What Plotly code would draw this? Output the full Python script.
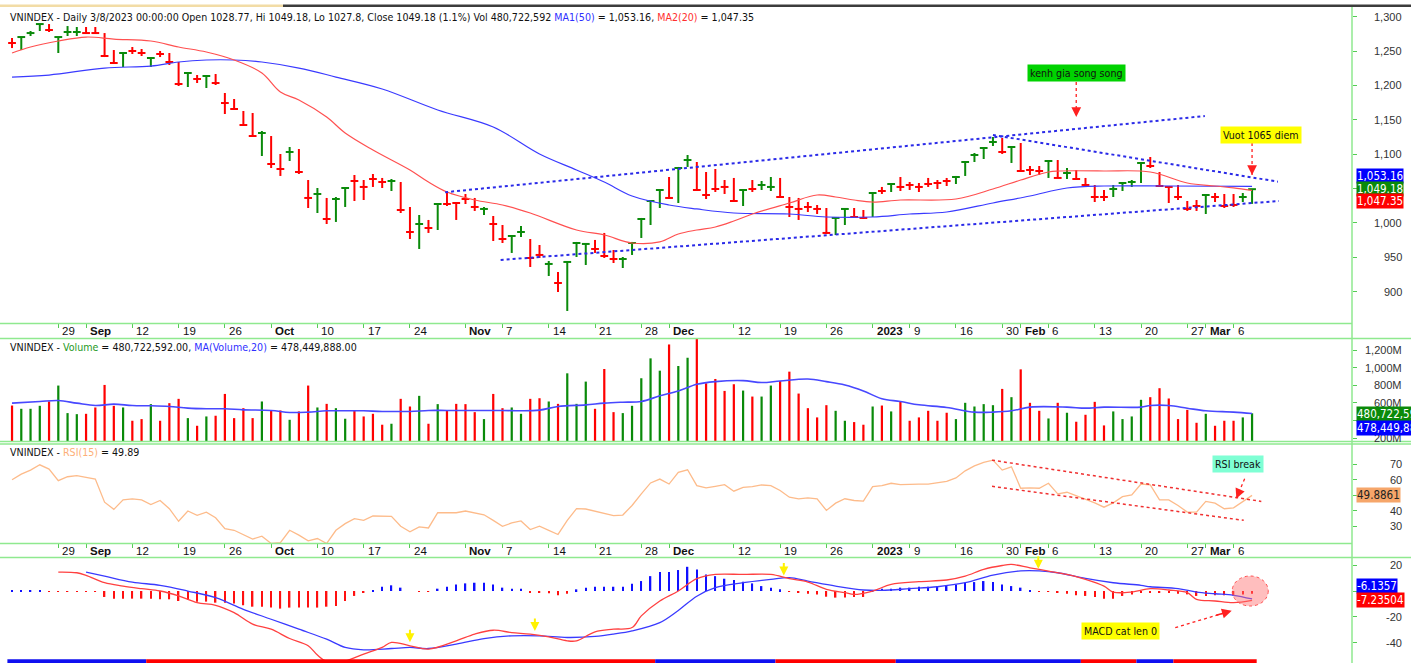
import plotly.graph_objects as go

# ---------------- data ----------------
high = [1269.1,1270.5,1279.3,1289.4,1289.4,1270.5,1286.5,1285.1,1285.1,1285.1,
        1276.3,1251.6,1247.3,1256.0,1253.1,1241.4,1250.2,1247.3,1234.2,1219.6,
        1215.3,1215.3,1216.7,1189.1,1180.4,1162.9,1160.0,1133.8,1126.5,1100.4,
        1110.5,1107.6,1062.5,1050.9,1036.4,1037.8,1052.3,1069.8,1062.5,1071.3,
        1065.5,1064.0,1059.6,1023.3,1011.6,1004.4,1029.1,1045.1,1030.5,1042.2,
        1036.4,1023.3,1010.2,997.1,982.5,995.6,976.7,968.0,944.7,928.7,
        944.7,972.4,970.9,975.3,985.5,960.7,950.5,972.4,1007.3,1033.4,
        1049.4,1066.9,1081.5,1098.9,1088.7,1074.2,1078.5,1062.5,1065.5,1049.4,
        1062.5,1061.1,1066.9,1065.5,1037.8,1036.4,1030.5,1026.2,1021.8,1008.7,
        1021.8,1021.8,1018.9,1045.1,1052.4,1058.2,1066.9,1059.6,1058.2,1065.5,
        1062.5,1065.5,1068.4,1090.2,1101.8,1110.5,1125.1,1123.6,1112.0,1116.4,
        1082.9,1082.9,1090.2,1091.6,1080.0,1077.1,1065.5,1055.3,1048.0,1055.3,
        1058.2,1062.5,1087.3,1096.0,1074.2,1053.8,1055.3,1032.0,1033.4,1042.2,
        1043.6,1042.2,1042.2,1043.6,1049.18]
low = [1254.5,1251.6,1272.0,1279.3,1277.8,1247.3,1272.0,1272.0,1274.9,1274.9,
       1241.4,1232.7,1226.9,1245.8,1242.9,1226.9,1241.4,1229.8,1199.3,1197.8,
       1203.6,1196.4,1200.7,1158.5,1164.4,1141.1,1125.1,1097.4,1080.0,1068.4,
       1090.2,1071.3,1021.8,1014.5,998.5,1001.5,1023.3,1032.0,1033.4,1052.4,
       1050.9,1046.5,1014.5,976.7,962.2,985.5,989.8,1024.7,1004.4,1027.6,
       1017.5,1011.6,973.8,970.9,956.4,979.6,936.0,949.1,922.9,899.6,
       872.0,950.5,938.9,956.4,949.1,941.8,934.5,953.5,978.2,997.1,
       1021.8,1034.9,1029.1,1081.5,1046.5,1034.9,1045.1,1042.2,1030.5,1024.7,
       1045.1,1048.0,1046.5,1037.8,1008.7,1004.4,1016.0,1013.1,984.0,982.5,
       997.1,1008.7,1005.8,1008.7,1042.2,1045.1,1046.5,1048.0,1045.1,1052.4,
       1049.4,1053.8,1056.7,1068.4,1088.7,1093.1,1112.0,1100.4,1087.3,1074.2,
       1069.8,1069.8,1065.5,1065.5,1064.0,1062.5,1053.8,1030.5,1032.0,1037.8,
       1046.5,1052.4,1058.2,1080.0,1052.4,1029.1,1033.4,1017.5,1017.5,1013.1,
       1030.5,1021.8,1023.3,1030.5,1027.8]
close = [1261.8,1270.5,1276.3,1289.4,1280.7,1270.5,1277.8,1277.8,1276.3,1276.3,
         1242.9,1232.7,1247.3,1250.2,1247.3,1240.0,1245.8,1234.2,1202.2,1218.2,
         1209.5,1213.8,1203.6,1174.5,1165.8,1142.5,1126.5,1130.9,1085.8,1078.5,
         1103.3,1074.2,1036.4,1042.2,1005.8,1034.9,1050.9,1061.1,1052.4,1064.0,
         1059.6,1061.1,1018.9,986.9,998.5,992.7,1027.6,1027.6,1029.1,1034.9,
         1023.3,1020.4,998.5,976.7,981.1,986.9,949.1,953.5,940.4,912.7,
         943.3,970.9,969.5,962.2,952.0,947.6,947.6,970.9,1005.8,1032.0,
         1048.0,1036.4,1080.0,1091.6,1048.0,1040.7,1049.4,1052.4,1032.0,1048.0,
         1049.4,1055.3,1052.4,1037.8,1023.3,1020.4,1023.3,1020.4,985.5,1007.3,
         1020.4,1008.7,1007.3,1043.6,1046.5,1056.7,1052.4,1055.3,1052.4,1056.7,
         1058.2,1061.1,1066.9,1088.7,1098.9,1109.1,1117.8,1103.3,1110.5,1075.6,
         1077.1,1075.6,1090.2,1065.5,1072.7,1064.0,1055.3,1037.8,1037.8,1049.4,
         1058.2,1059.6,1087.3,1082.9,1053.8,1052.4,1037.8,1020.4,1024.7,1040.7,
         1037.8,1024.7,1026.2,1037.8,1049.18]
# bar colour per session: G = up bar, R = down bar
direction = ("RGGGRGGGRR" "RRGRRGRRRG" "RGRRRRRGRR" "GRRGRGGRRR" "RGRRGRGRRR"
             "RGRRGGRRGR" "GGGRRRGGGG" "GRGGRRRRRG" "RGGRRRRRRG" "GRRGRGRRRR"
             "RRGGGGGRGR" "RRGRGRRRRG" "GGGRRRRRRG" "RRRGG")

ma50_idx = [0,4,10,15,18,21,24,27,31,35,40,46,52,57,61,64,67,71,74,78,84,88,93,97,101,106,110,114,118,125,134]
ma50_val = [1212.3,1215.2,1225.4,1228.3,1234.2,1237.1,1237.1,1234.2,1225.4,1212.3,1194.9,1164.4,1139.6,1100.4,
            1077.1,1059.6,1039.3,1026.2,1020.4,1014.5,1013.1,1008.7,1008.7,1013.1,1016.0,1029.1,1039.3,1050.9,
            1053.8,1053.8,1053.16]
ma20_idx = [0,2,5,8,11,15,18,21,24,27,29,31,34,36,39,43,45,47,50,53,56,61,64,67,70,72,74,76,78,80,
            84,87,89,91,93,96,102,106,109,112,113,118,123,127,130,132,134]
ma20_val = [1247.3,1256.0,1264.7,1270.5,1267.6,1264.7,1256.0,1248.7,1237.1,1218.2,1190.5,1178.9,1154.1,1130.9,
            1106.2,1077.1,1059.6,1045.1,1033.4,1026.2,1014.5,989.8,982.5,970.9,972.4,984.0,989.8,994.2,1002.9,
            1013.1,1029.1,1040.7,1037.8,1033.4,1030.5,1033.4,1034.9,1049.4,1062.5,1074.2,1075.6,1075.6,1074.2,
            1058.2,1053.8,1051.0,1047.35]

# volume in millions of shares
volume_m = [569,532,532,566,615,796,483,471,475,547,
            803,566,547,396,415,585,396,596,645,426,
            339,445,453,701,426,539,426,615,513,513,
            407,502,796,547,588,539,419,513,445,475,
            351,362,645,558,679,362,585,509,588,585,
            494,415,701,539,547,475,645,652,615,588,
            935,588,841,532,984,494,483,566,879,1105,
            965,1263,1018,1112,1330,822,871,735,811,739,
            671,671,796,848,954,705,539,434,573,509,
            396,381,351,558,569,502,615,396,434,509,
            396,487,415,600,558,585,573,758,664,980,
            600,509,422,600,487,385,464,611,343,502,
            415,445,634,664,766,649,415,520,373,475,
            339,396,396,434,480.72]
vma_idx = [0,3,5,7,9,11,13,15,17,19,21,23,25,28,30,32,34,36,38,40,43,45,47,50,53,55,57,59,62,64,
           66,68,70,72,74,76,79,81,83,86,88,90,92,94,96,98,101,104,106,108,110,114,116,118,122,123,
           125,127,129,132,134]
vma_val = [596,615,626,596,569,585,569,566,558,539,532,532,520,513,490,494,509,509,509,502,
           502,513,513,513,513,509,517,558,577,596,607,615,679,735,811,841,852,830,848,871,
           841,803,735,645,615,577,547,494,494,509,551,551,539,551,551,569,569,539,509,494,478.45]

rsi = [60.0,63.6,66.2,69.6,66.8,59.4,61.9,62.6,61.5,60.4,
       45.5,40.9,47.0,47.7,47.0,44.0,46.6,41.3,33.2,39.8,
       37.0,39.1,35.5,28.5,27.4,24.3,21.7,23.6,18.9,19.4,
       27.4,24.3,20.6,22.1,18.9,27.4,31.7,34.9,33.8,36.6,
       36.4,36.4,30.0,26.4,29.6,28.9,38.7,38.7,38.7,39.8,
       38.5,37.4,33.8,30.0,32.1,33.4,27.9,30.0,27.4,24.7,
       33.8,41.3,41.1,39.8,38.1,36.8,37.2,43.4,50.9,57.9,
       60.4,57.2,64.7,66.4,56.2,54.7,55.7,56.8,52.6,55.1,
       55.5,56.6,56.2,53.0,48.7,47.7,48.3,47.7,40.2,44.9,
       47.7,46.6,46.2,55.5,56.2,57.7,56.8,57.2,57.2,57.2,
       57.9,58.9,61.1,65.7,68.9,71.1,72.6,66.2,68.3,54.5,
       54.7,54.5,57.7,50.9,51.9,49.8,47.7,45.1,42.3,45.1,
       49.1,50.2,57.2,56.6,47.0,47.0,43.4,39.1,39.1,46.0,
       44.9,41.3,41.9,46.0,49.89]

macd_idx = [5,7,8,10,12,14,16,18,20,22,24,26,28,30,32,33,34,36,38,40,41,43,45,48,50,52,54,56,58,60,
            61,63,65,67,68,70,72,74,76,79,82,84,86,88,90,91,93,95,98,101,103,105,107,108,110,112,114,
            116,118,119,121,123,125,127,128,130,132,134]
macd_val = [14.6,14.1,12.1,6.4,3.8,1.8,0,-3.8,-9.0,-11.0,-16.7,-25.6,-29.5,-36.7,-42.3,-49.5,-54.5,-54.0,
            -48.7,-43.6,-39.7,-42.3,-44.9,-38.5,-33.3,-30.3,-32.1,-33.3,-35.4,-38.5,-38.5,-31.5,-29.5,-28.2,
            -19.2,-7.7,0,9.5,12.8,12.8,12.8,9.5,6.9,1.3,-1.3,-2.6,0,5.1,7.2,8.5,11.5,16.7,19.7,20.5,17.9,
            15.4,12.8,9.0,3.8,-0.8,-0.8,1.8,0.8,-1.3,-6.4,-7.7,-9.0,-7.23504]
sig_idx = [8,10,13,16,19,22,25,28,31,34,36,38,41,43,45,48,51,54,57,60,63,65,67,70,72,74,76,79,82,84,
           86,89,92,94,97,100,103,106,109,111,113,116,119,122,123,126,128,130,132,134]
sig_val = [14.6,11.5,6.9,4.4,0,-5.1,-14.1,-21.8,-29.5,-37.2,-43.6,-45.4,-44.4,-43.6,-44.4,-41.0,-36.7,
           -34.6,-34.6,-35.9,-35.1,-33.3,-30.8,-24.4,-15.0,-4.0,2.6,6.4,9.0,10.3,7.7,3.8,0.8,0.5,1.8,3.3,
           6.4,12.3,15.6,15.6,14.1,9.7,6.4,4.4,3.3,1.8,-0.8,-2.1,-3.3,-6.1357]
hist = [0.5,0.5,0.5,0.5,-0.3,-0.3,-0.3,-0.3,-0.5,-0.5,
        -4.6,-5.9,-5.9,-5.9,-5.9,-5.9,-6.4,-6.4,-7.7,-6.9,
        -8.2,-8.2,-9.0,-9.0,-9.7,-11.0,-12.1,-12.1,-12.8,-13.6,
        -12.8,-12.8,-12.8,-12.8,-12.1,-11.5,-7.7,-3.8,-1.3,0.8,
        3.3,4.4,2.6,0,-0.5,-0.5,1.8,3.3,5.1,5.9,
        6.4,6.4,5.1,2.6,1.8,1.8,-0.8,-1.3,-1.8,-3.3,
        -2.1,1.3,2.6,3.3,3.3,3.3,3.3,5.6,7.7,11.5,
        14.6,14.6,16.2,18.7,16.7,12.8,11.5,9.5,8.5,7.2,
        5.9,3.8,2.6,1.3,-0.5,-1.3,-2.1,-2.6,-4.4,-5.1,
        -5.1,-4.6,-4.6,0.8,1.8,1.8,2.6,2.6,3.3,3.3,
        3.8,4.4,5.1,6.4,6.9,7.7,6.9,5.1,3.8,2.6,
        0.3,-0.5,-0.5,-1.3,-2.1,-3.3,-3.8,-4.6,-5.9,-5.9,
        -3.8,-2.6,-1.3,-0.8,-1.3,-1.3,-2.1,-2.6,-3.8,-3.8,
        -3.3,-3.3,-3.3,-2.6,-2.1]
# trend-state ribbon under the MACD pane (colour, number of sessions)
strip_runs = [("B",15),("R",55),("B",13),("R",13),("B",20),("R",6),("B",4),("R",9)]

# date axis labels (session index, text)
tick_idx = [5,8,13,18,23,28,33,38,43,49,53,58,63,68,71,78,83,88,93,97,102,107,109,112,117,122,127,129,132]
tick_txt = ["29","Sep","12","19","26","Oct","10","17","24","Nov","7","14","21","28","Dec",
            "12","19","26","2023","9","16","30","Feb","6","13","20","27","Mar","6"]

# axis tick positions and the labels that stay visible beside the value boxes
price_ticks = [900,950,1000,1050,1100,1150,1200,1250,1300]
price_labels = [900,950,1000,1100,1150,1200,1250,1300]
vol_ticks = [200,400,600,800,1000,1200]
vol_labels = [200,600,800,1000,1200]
rsi_ticks = [30,40,50,60,70]
rsi_labels = [30,40,60,70]
macd_ticks = [20,0,-20,-40]
macd_labels = [20,-20,-40]

# hand drawn lines: (x0, y0, x1, y1)
price_trend = [(46.8,1044.7,128.9,1155.6),(52.8,946.2,136.9,1032.0),(106.0,1128.0,136.8,1060.1)]
rsi_trend = [(105.9,72.6,135.0,46.0),(105.9,55.7,133.1,33.8)]
cross_marks = [(43,-39.5),(56.5,-30.8),(83.4,12.0),(110.9,17.2)]

# ---------------- geometry / style ----------------
W, H = 1411, 663
PLOT_R = 1352
X_RANGE = [-1.3, 144.8]
GREEN_LINE = "#8FE98F"
NARROW = "DejaVu Sans Condensed, Liberation Sans Narrow, sans-serif"
NSIZE = 10.6
SANS = "Liberation Sans, Arial, sans-serif"
UPC, DNC = "#0A8A0A", "#FF0000"


def fx(p):
    return p / W


def fy(p):
    return 1 - p / H


n = len(close)
fig = go.Figure()

# ---- price bars ----
for col, code in ((UPC, "G"), (DNC, "R")):
    xs, ys = [], []
    for i in range(n):
        if direction[i] != code:
            continue
        xs += [i, i, None, i - 0.42, i + 0.42, None]
        ys += [low[i], high[i], None, close[i], close[i], None]
    fig.add_trace(go.Scatter(x=xs, y=ys, mode="lines", line=dict(color=col, width=2),
                             xaxis="x", yaxis="y", hoverinfo="skip"))

fig.add_trace(go.Scatter(x=ma50_idx, y=ma50_val, mode="lines", line=dict(color="#3A3AFF", width=1.2),
                         xaxis="x", yaxis="y", line_shape="spline"))
fig.add_trace(go.Scatter(x=ma20_idx, y=ma20_val, mode="lines", line=dict(color="#FF5050", width=1.2),
                         xaxis="x", yaxis="y", line_shape="spline"))
for x0, y0, x1, y1 in price_trend:
    fig.add_trace(go.Scatter(x=[x0, x1], y=[y0, y1], mode="lines",
                             line=dict(color="#2A2AE8", width=2, dash="dot"), xaxis="x", yaxis="y"))

# ---- volume ----
for col, code in ((UPC, "G"), (DNC, "R")):
    xi = [i for i in range(n) if direction[i] == code]
    fig.add_trace(go.Bar(x=xi, y=[volume_m[i] for i in xi], width=0.24, marker=dict(color=col, line_width=0),
                         xaxis="x2", yaxis="y2"))
fig.add_trace(go.Scatter(x=vma_idx, y=vma_val, mode="lines", line=dict(color="#4848FF", width=1.6),
                         xaxis="x2", yaxis="y2", line_shape="spline"))

# ---- RSI ----
fig.add_trace(go.Scatter(x=list(range(n)), y=rsi, mode="lines", line=dict(color="#FDBB8A", width=1.3),
                         xaxis="x3", yaxis="y3"))
for x0, y0, x1, y1 in rsi_trend:
    fig.add_trace(go.Scatter(x=[x0, x1], y=[y0, y1], mode="lines",
                             line=dict(color="#F03030", width=1.5, dash="dot"), xaxis="x3", yaxis="y3"))

# ---- MACD ----
pos = [i for i in range(n) if hist[i] >= 0]
neg = [i for i in range(n) if hist[i] < 0]
fig.add_trace(go.Bar(x=pos, y=[hist[i] for i in pos], width=0.16, marker=dict(color="#1010FF", line_width=0),
                     xaxis="x4", yaxis="y4"))
fig.add_trace(go.Bar(x=neg, y=[hist[i] for i in neg], width=0.16, marker=dict(color="#FF1010", line_width=0),
                     xaxis="x4", yaxis="y4"))
fig.add_trace(go.Scatter(x=sig_idx, y=sig_val, mode="lines", line=dict(color="#3A3AFF", width=1.3),
                         xaxis="x4", yaxis="y4", line_shape="spline"))
fig.add_trace(go.Scatter(x=macd_idx, y=macd_val, mode="lines", line=dict(color="#FF4040", width=1.3),
                         xaxis="x4", yaxis="y4", line_shape="spline"))
start = 0
for code, cnt in strip_runs:
    fig.add_trace(go.Scatter(x=[start - 0.5, start + cnt - 0.5], y=[-54.3, -54.3], mode="lines",
                             line=dict(color="#1010F0" if code == "B" else "#FF0000", width=4),
                             xaxis="x4", yaxis="y4", cliponaxis=False))
    start += cnt

# arrow markers for current value boxes
for ax_, val, col in (("y", close[-1], "#0A8A0A"), ("y2", volume_m[-1], "#0A8A0A"),
                      ("y3", rsi[-1], "#F6A66A"), ("y4", macd_val[-1], "#FF0000")):
    xa = {"y": "x", "y2": "x2", "y3": "x3", "y4": "x4"}[ax_]
    fig.add_trace(go.Scatter(x=[X_RANGE[1] + 0.35], y=[val], mode="markers",
                             marker=dict(symbol="triangle-left", size=10, color=col),
                             xaxis=xa, yaxis=ax_, cliponaxis=False))

ann = []


def label(text, x, y, xref="paper", yref="paper", **kw):
    d = dict(text=text, x=x, y=y, xref=xref, yref=yref, showarrow=False)
    d.update(kw)
    ann.append(d)


TFONT = dict(family=NARROW, size=NSIZE, color="#111")
# pane titles
label("VNINDEX - Daily 3/8/2023 00:00:00 Open 1028.77, Hi 1049.18, Lo 1027.8, Close 1049.18 (1.1%) "
      "Vol 480,722,592 <span style='color:#2F2FFF'>MA1(50)</span> = 1,053.16, "
      "<span style='color:#FF3030'>MA2(20)</span> = 1,047.35",
      fx(8), fy(17), xanchor="left", yanchor="middle", font=TFONT)
label("VNINDEX - <span style='color:#1F9A1F'>Volume</span> = 480,722,592.00, "
      "<span style='color:#2F2FFF'>MA(Volume,20)</span> = 478,449,888.00",
      fx(8), fy(347), xanchor="left", yanchor="middle", font=TFONT)
label("VNINDEX - <span style='color:#FDAF78'>RSI(15)</span> = 49.89",
      fx(8), fy(452), xanchor="left", yanchor="middle", font=TFONT)

# date labels
for xr, ypx in (("x", 331), ("x3", 551)):
    for i, t in zip(tick_idx, tick_txt):
        txt = t if t.isdigit() and len(t) < 4 else "<b>%s</b>" % t
        label(txt, i, fy(ypx), xref=xr, xanchor="left", yanchor="middle", xshift=2,
              font=dict(family=SANS, size=11.5, color="#111"))

# right axis labels
for yr, labs, fmt in (("y", price_labels, lambda v: f"{v:,}"), ("y2", vol_labels, lambda v: f"{v:,}M"),
                      ("y3", rsi_labels, lambda v: str(v)), ("y4", macd_labels, lambda v: str(v))):
    for v in labs:
        label(fmt(v), fx(1404), v, yref=yr, xanchor="right", yanchor="middle",
              font=dict(family=SANS, size=11, color="#333"))


def vbox(text, val, yref, bg, fg="white", yshift=0):
    label(text, fx(1356), val, yref=yref, xanchor="left", yanchor="middle", yshift=yshift,
          bgcolor=bg, borderpad=0, font=dict(family=NARROW, size=11.5, color=fg))


vbox("1,053.16", ma50_val[-1], "y", "#0000FF", yshift=10)
vbox("1,049.18", close[-1], "y", "#0A8A0A")
vbox("1,047.35", ma20_val[-1], "y", "#FF0000", yshift=-11)
vbox("480,722,592", volume_m[-1], "y2", "#0A8A0A", yshift=-1)
vbox("478,449,888", vma_val[-1], "y2", "#0000FF", yshift=-14)
vbox("49.8861", rsi[-1], "y3", "#F6A66A", fg="#222")
vbox("-6.1357", sig_val[-1], "y4", "#0000FF", yshift=13)
vbox("-7.23504", macd_val[-1], "y4", "#FF0000")

# text callouts
label("kenh gia song song", 115.0, 1218.2, xref="x", yref="y", bgcolor="#00D200", borderpad=2, font=TFONT)
label("Vuot 1065 diem", 135.0, 1128.0, xref="x", yref="y", bgcolor="#FFFF00", borderpad=2, font=TFONT)
label("RSI break", 132.5, 70.2, xref="x3", yref="y3", bgcolor="#7FFFD4", borderpad=2, font=TFONT)
label("MACD cat len 0", 119.8, -30.6, xref="x4", yref="y4", bgcolor="#FFFF00", borderpad=2, font=TFONT)

# dotted red arrows (tail -> tip)
red_arrows = [("x", "y", 115.0, 1205.1, 115.0, 1154.2), ("x", "y", 134.0, 1116.4, 134.0, 1069.8),
              ("x3", "y3", 133.2, 60.6, 132.3, 47.9), ("x4", "y4", 125.7, -28.3, 131.8, -15.2)]
for xr, yr, x0, y0, x1, y1 in red_arrows:
    fig.add_trace(go.Scatter(x=[x0, x1], y=[y0, y1], mode="lines",
                             line=dict(color="#FF2020", width=1.3, dash="dot"),
                             xaxis=xr, yaxis=yr))
    ann.append(dict(x=x1, y=y1, xref=xr, yref=yr, ax=x1 + (x0 - x1) * 0.3, ay=y1 + (y0 - y1) * 0.3,
                    axref=xr, ayref=yr, showarrow=True, arrowhead=2, arrowsize=1.3, arrowwidth=1.5,
                    arrowcolor="#FF2020", text=""))

# yellow cross markers on MACD
for xi, yv in cross_marks:
    ann.append(dict(x=xi, y=yv, xref="x4", yref="y4", ax=0, ay=-14, showarrow=True, arrowhead=2,
                    arrowsize=0.9, arrowwidth=2, arrowcolor="#FFF200", text=""))

shapes = []


def hline(ypx, x1px=W):
    shapes.append(dict(type="line", xref="paper", yref="paper", x0=0, x1=fx(x1px), y0=fy(ypx), y1=fy(ypx),
                       line=dict(color=GREEN_LINE, width=1.5)))


hline(323.5, PLOT_R)
hline(338.5)
hline(441.5)
hline(444)
hline(543.5, PLOT_R)
hline(557.5)
shapes.append(dict(type="line", xref="paper", yref="paper", x0=fx(PLOT_R), x1=fx(PLOT_R), y0=0, y1=fy(6),
                   line=dict(color=GREEN_LINE, width=1.5)))
# top scroll strip
shapes.append(dict(type="rect", xref="paper", yref="paper", x0=0, x1=fx(283), y0=fy(7), y1=fy(4.5),
                   fillcolor="#F2DCA6", line_width=0))
shapes.append(dict(type="rect", xref="paper", yref="paper", x0=fx(283), x1=1, y0=fy(7), y1=fy(4.5),
                   fillcolor="#3C3C3C", line_width=0))
# highlight circle at latest MACD
shapes.append(dict(type="circle", xref="x4", yref="y4", x0=133.8 - 1.95, x1=133.8 + 1.95, y0=-11.6, y1=11.6,
                   fillcolor="rgba(255,110,110,0.45)", line=dict(color="#FF5050", width=1, dash="dot")))

xcommon = dict(range=X_RANGE, showgrid=False, zeroline=False, showline=False, fixedrange=True,
               domain=[0, fx(PLOT_R)])
ycommon = dict(side="right", showgrid=False, zeroline=False, showline=False, showticklabels=False,
               ticks="outside", ticklen=4, tickcolor="#55CC55", fixedrange=True)
fig.update_layout(
    width=W, height=H, margin=dict(l=0, r=0, t=0, b=0),
    paper_bgcolor="white", plot_bgcolor="white", showlegend=False, barmode="overlay",
    xaxis=dict(**xcommon, anchor="y", tickvals=tick_idx, ticks="outside", ticklen=4, tickcolor="#55CC55",
               showticklabels=False),
    xaxis2=dict(**xcommon, anchor="y2", showticklabels=False),
    xaxis3=dict(**xcommon, anchor="y3", tickvals=tick_idx, ticks="outside", ticklen=4, tickcolor="#55CC55",
                showticklabels=False),
    xaxis4=dict(**xcommon, anchor="y4", showticklabels=False),
    yaxis=dict(**ycommon, anchor="x", domain=[fy(323), fy(7)], range=[854.5, 1314.2], tickvals=price_ticks),
    yaxis2=dict(**ycommon, anchor="x2", domain=[fy(441), fy(339)], range=[166, 1325], tickvals=vol_ticks),
    yaxis3=dict(**ycommon, anchor="x3", domain=[fy(543), fy(444)], range=[19.2, 83], tickvals=rsi_ticks),
    yaxis4=dict(**ycommon, anchor="x4", domain=[0, fy(558)], range=[-55.6, 25.5], tickvals=macd_ticks),
    annotations=ann, shapes=shapes, hovermode=False,
)

fig.write_html("out.html", config={"displayModeBar": False},
               post_script="document.body.style.margin='0';document.body.style.overflow='hidden';")
